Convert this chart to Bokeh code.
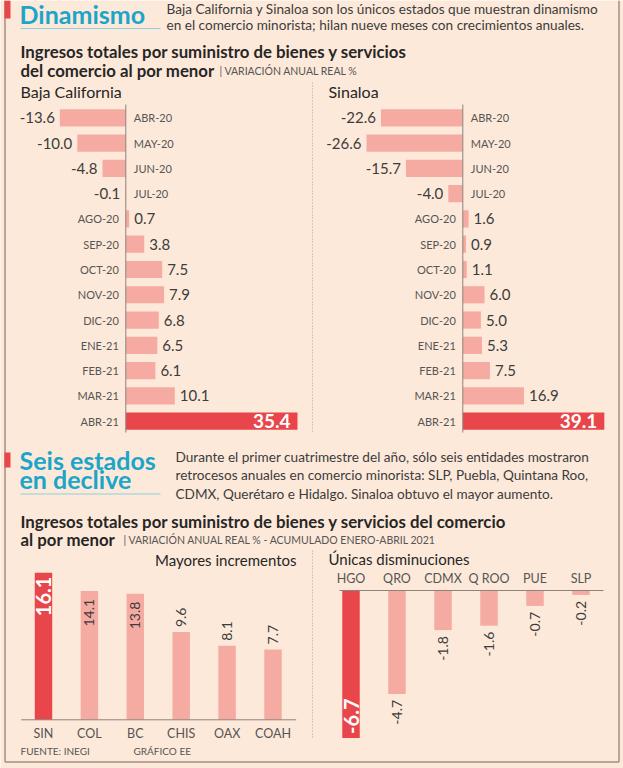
import math

from bokeh.core.properties import value
from bokeh.embed import file_html
from bokeh.models import Range1d
from bokeh.plotting import figure
from bokeh.resources import INLINE

# ---------------------------------------------------------------- data
months = ["ABR-20", "MAY-20", "JUN-20", "JUL-20", "AGO-20", "SEP-20", "OCT-20",
          "NOV-20", "DIC-20", "ENE-21", "FEB-21", "MAR-21", "ABR-21"]
baja_california = [-13.6, -10.0, -4.8, -0.1, 0.7, 3.8, 7.5, 7.9, 6.8, 6.5, 6.1, 10.1, 35.4]
sinaloa = [-22.6, -26.6, -15.7, -4.0, 1.6, 0.9, 1.1, 6.0, 5.0, 5.3, 7.5, 16.9, 39.1]

inc_states = ["SIN", "COL", "BC", "CHIS", "OAX", "COAH"]
inc_values = [16.1, 14.1, 13.8, 9.6, 8.1, 7.7]

dec_states = ["HGO", "QRO", "CDMX", "Q ROO", "PUE", "SLP"]
dec_values = [-6.7, -4.7, -1.8, -1.6, -0.7, -0.2]

# ---------------------------------------------------------------- style
W, H = 623, 768
BG = "#fde9d9"
LIGHT = "#f5aba2"
HIGHLIGHT = "#e8464b"
BLUE = "#1ba5c9"
UNDERLINE = "#8ecde0"
BORDER = "#a58e82"
AXIS = "#8d827c"
DARK = "#262626"
TEXT = "#3c3c3c"
GREY = "#555555"
FONT = "Lato"

TITLE_SIZE = "16.8px"
BODY_SIZE = "13.6px"
NOTE_SIZE = "10.5px"

p = figure(width=W, height=H, x_range=Range1d(0, W), y_range=Range1d(H, 0),
           x_axis_type=None, y_axis_type=None, output_backend="svg",
           toolbar_location=None, min_border=0, outline_line_color=None,
           background_fill_color=BG, border_fill_color=BG)
p.grid.visible = False


def x_scale(origin, ppu):
    """Linear x range with value 0 at pixel `origin`, `ppu` pixels per unit."""
    return Range1d(start=-origin / ppu, end=(W - origin) / ppu)


def y_up_scale(origin, ppu):
    """Linear y range (values growing upwards) with 0 at pixel row `origin`."""
    return Range1d(start=(origin - H) / ppu, end=origin / ppu)


def y_down_scale(origin, step):
    """Row-index range: row 0 at pixel row `origin`, rows `step` px apart."""
    return Range1d(start=(H - origin) / step, end=-origin / step)


p.extra_x_ranges = {
    "bc": x_scale(125.3, 4.85),
    "sin": x_scale(462.3, 3.62),
    "inc": x_scale(43.0, 45.9),
    "dec": x_scale(350.5, 46.0),
}
p.extra_y_ranges = {
    "rows": y_down_scale(117.3, 25.28),
    "inc": y_up_scale(719.3, 9.14),
    "dec": y_up_scale(590.0, 22.0),
}


def label(x, y, txt, size, color=DARK, align="left", bold=False, **kw):
    p.text(x=[x], y=[y], text=[txt], text_font=value(FONT), text_font_size=size,
           text_color=color, text_align=align, text_baseline="middle",
           text_font_style="bold" if bold else "normal", **kw)


# ---------------------------------------------------------------- frame
p.segment(x0=[4.5, 618.5, 4.5], x1=[4.5, 618.5, 618.5],
          y0=[0, 0, 761.5], y1=[761.5, 761.5, 761.5],
          line_color=BORDER, line_width=1.5)
p.quad(left=[4, 4], right=[10, 10], top=[0, 452], bottom=[18, 467],
       fill_color=HIGHLIGHT, line_color=None)

# ---------------------------------------------------------------- section 1 texts
label(19, 13, "Dinamismo", "25px", BLUE, bold=True)
p.segment(x0=[20], x1=[160], y0=[28], y1=[28], line_color=UNDERLINE, line_width=1.2)
label(166, 8, "Baja California y Sinaloa son los únicos estados que muestran dinamismo",
      BODY_SIZE, TEXT)
label(166, 24, "en el comercio minorista; hilan nueve meses con crecimientos anuales.",
      BODY_SIZE, TEXT)
label(20, 51, "Ingresos totales por suministro de bienes y servicios", TITLE_SIZE, DARK,
      bold=True)
label(20, 70, "del comercio al por menor", TITLE_SIZE, DARK, bold=True)
label(219, 70, "|  VARIACIÓN ANUAL REAL %", NOTE_SIZE, GREY)
label(20, 91, "Baja California", "16px", DARK)
label(328, 91, "Sinaloa", "16px", DARK)
p.segment(x0=[312], x1=[312], y0=[82], y1=[433], line_color="#b5a49a",
          line_width=1, line_dash="1 2")


# ---------------------------------------------------------------- monthly bars
def month_panel(values, xr):
    n = len(values)
    rows = list(range(n))
    hi = n - 1
    colors = [HIGHLIGHT if i == hi else LIGHT for i in rows]
    p.hbar(y=rows, left=0, right=values, height=0.68, fill_color=colors,
           line_color=None, x_range_name=xr, y_range_name="rows")
    p.segment(x0=[0], x1=[0], y0=[104], y1=[432], line_color=AXIS, line_width=1,
              x_range_name=xr)

    neg = [i for i in rows if values[i] < 0]
    pos = [i for i in rows if values[i] >= 0 and i != hi]
    common = dict(text_font=value(FONT), text_baseline="middle",
                  x_range_name=xr, y_range_name="rows")

    # month names sit on the opposite side of the bar
    p.text(x=[0] * len(neg), y=neg, text=[months[i] for i in neg], x_offset=8,
           text_align="left", text_font_size="11px", text_color=GREY, **common)
    pos_all = pos + [hi]
    p.text(x=[0] * len(pos_all), y=pos_all, text=[months[i] for i in pos_all],
           x_offset=-7, text_align="right", text_font_size="11px",
           text_color=GREY, **common)

    # values at the end of each bar
    p.text(x=[values[i] for i in neg], y=neg, text=[f"{values[i]:.1f}" for i in neg],
           x_offset=-5, text_align="right", text_font_size="15px",
           text_color=TEXT, **common)
    p.text(x=[values[i] for i in pos], y=pos, text=[f"{values[i]:.1f}" for i in pos],
           x_offset=5, text_align="left", text_font_size="15px",
           text_color=TEXT, **common)
    p.text(x=[values[hi]], y=[hi], text=[f"{values[hi]:.1f}"], x_offset=-7,
           text_align="right", text_font_size="19px", text_font_style="bold",
           text_color="white", **common)


month_panel(baja_california, "bc")
month_panel(sinaloa, "sin")

# ---------------------------------------------------------------- section 2 texts
label(19, 459, "Seis estados", "25px", BLUE, bold=True)
label(19, 478, "en declive", "25px", BLUE, bold=True)
p.segment(x0=[20], x1=[160], y0=[493.5], y1=[493.5], line_color=UNDERLINE, line_width=1.2)
label(175, 456, "Durante el primer cuatrimestre del año, sólo seis entidades mostraron",
      BODY_SIZE, TEXT)
label(175, 474, "retrocesos anuales en comercio minorista: SLP, Puebla, Quintana Roo,",
      BODY_SIZE, TEXT)
label(175, 493, "CDMX, Querétaro e Hidalgo. Sinaloa obtuvo el mayor aumento.",
      BODY_SIZE, TEXT)
label(20, 521, "Ingresos totales por suministro de bienes y servicios del comercio",
      TITLE_SIZE, DARK, bold=True)
label(20, 539, "al por menor", TITLE_SIZE, DARK, bold=True)
label(123, 539, "|  VARIACIÓN ANUAL REAL % - ACUMULADO ENERO-ABRIL 2021", NOTE_SIZE, GREY)
label(296, 559, "Mayores incrementos", "15px", DARK, align="right")
label(328, 558, "Únicas disminuciones", "15px", DARK)
p.segment(x0=[312], x1=[312], y0=[550], y1=[737], line_color="#b5a49a",
          line_width=1, line_dash="1 2")
label(20, 750, "FUENTE: INEGI", "10px", GREY)
label(133, 750, "GRÁFICO EE", "10px", GREY)

# ---------------------------------------------------------------- state columns
ROT = math.pi / 2


def column_panel(cats, vals, xr, yr, ppu, cat_y, base_x0, base_x1):
    n = len(vals)
    idx = list(range(n))
    hi = max(idx, key=lambda i: abs(vals[i]))
    colors = [HIGHLIGHT if i == hi else LIGHT for i in idx]
    p.vbar(x=idx, bottom=0, top=vals, width=0.38, fill_color=colors,
           line_color=None, x_range_name=xr, y_range_name=yr)
    p.segment(x0=[base_x0], x1=[base_x1], y0=[0], y1=[0], line_color=AXIS,
              line_width=1, y_range_name=yr)
    p.text(x=idx, y=[cat_y] * n, text=cats, text_font=value(FONT),
           text_font_size="12.5px", text_color=GREY, text_align="center",
           text_baseline="middle", x_range_name=xr)

    common = dict(text_font=value(FONT), text_baseline="middle", angle=ROT,
                  x_range_name=xr, y_range_name=yr)
    rest = [i for i in idx if i != hi]
    v_hi = vals[hi]
    if v_hi > 0:
        # strongest increase: bold white figure inside the top of the bar
        p.text(x=[hi], y=[v_hi - 4 / ppu], text=[f"{v_hi:.1f}"], text_align="right",
               text_font_size="20px", text_font_style="bold", text_color="white",
               **common)
        inside = [i for i in rest if vals[i] >= 12]
        above = [i for i in rest if vals[i] < 12]
        p.text(x=inside, y=[vals[i] - 8 / ppu for i in inside],
               text=[f"{vals[i]:.1f}" for i in inside], text_align="right",
               text_font_size="14px", text_color=TEXT, **common)
        p.text(x=above, y=[vals[i] + 5 / ppu for i in above],
               text=[f"{vals[i]:.1f}" for i in above], text_align="left",
               text_font_size="14px", text_color=TEXT, **common)
    else:
        # strongest decrease: bold white figure inside the bottom of the bar
        p.text(x=[hi], y=[v_hi + 4 / ppu], text=[f"{v_hi:.1f}"], text_align="left",
               text_font_size="20px", text_font_style="bold", text_color="white",
               **common)
        p.text(x=rest, y=[vals[i] - 6 / ppu for i in rest],
               text=[f"{vals[i]:.1f}" for i in rest], text_align="right",
               text_font_size="14px", text_color=TEXT, **common)


column_panel(inc_states, inc_values, "inc", "inc", 9.14, 733, 20.7, 295.7)
column_panel(dec_states, dec_values, "dec", "dec", 22.0, 578, 339, 603)

open("out.html", "w").write(file_html(p, INLINE))
